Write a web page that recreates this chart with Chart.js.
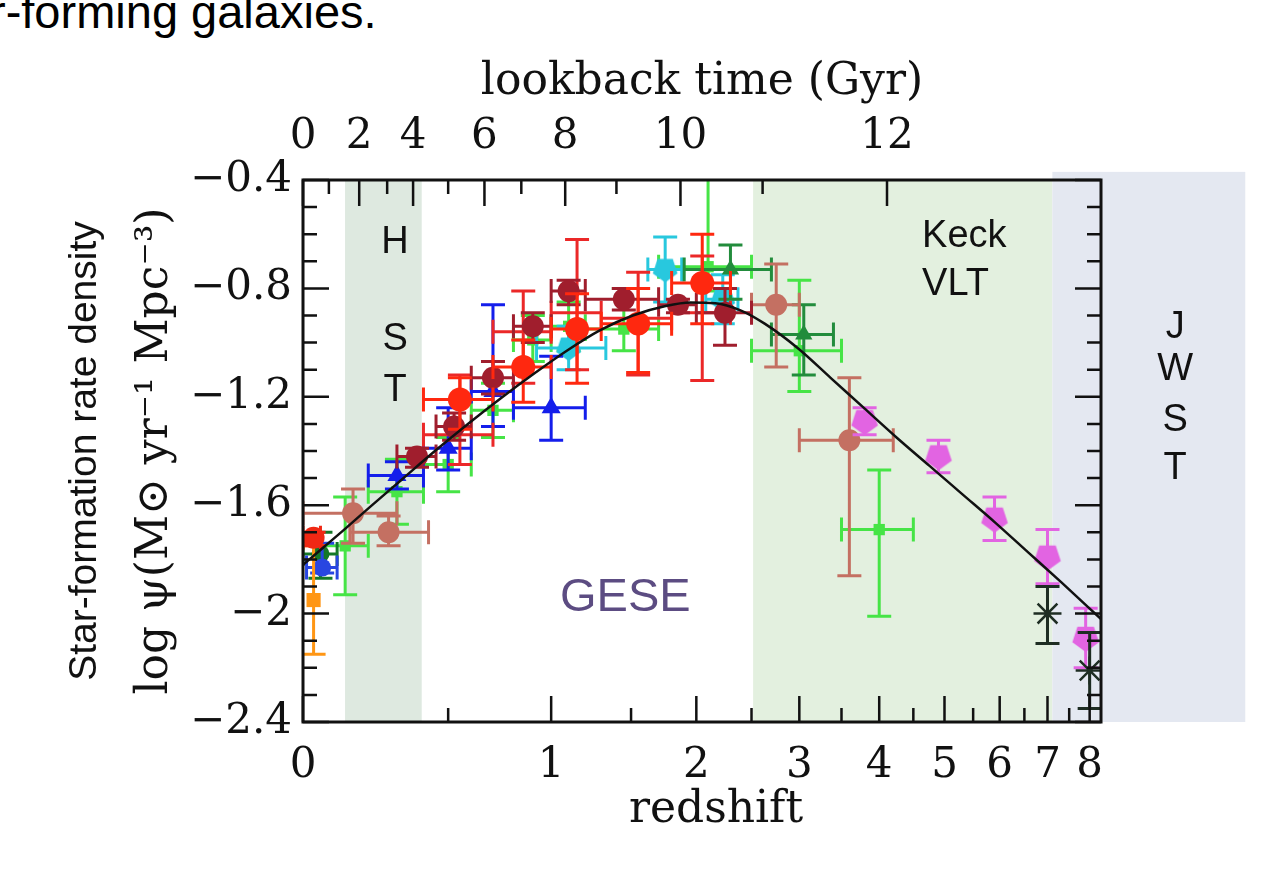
<!DOCTYPE html>
<html>
<head>
<meta charset="utf-8">
<script src="https://cdn.jsdelivr.net/npm/chart.js@4.4.0/dist/chart.umd.min.js"></script>
<style>
  html, body { margin: 0; padding: 0; background: #fff; }
  #wrap { position: relative; width: 1285px; height: 890px; overflow: hidden; }
  #caption {
    position: absolute; left: -10px; top: -12px; white-space: nowrap;
    font: 47px/47px "Liberation Sans", Arial, sans-serif; color: #000;
  }
  #sfrd { position: absolute; left: 0; top: 0; }
</style>
</head>
<body>
<div id="wrap">
  <div id="caption">r-forming galaxies.</div>
  <canvas id="sfrd" width="1285" height="890"></canvas>
</div>
<script>
// rows: [z, zLow, zHigh, log psi, err up, err down]
const cucciati = [
  [0.125, 0.05, 0.2, -1.75, 0.18, 0.18],
  [0.3, 0.2, 0.4, -1.55, 0.12, 0.12],
  [0.5, 0.4, 0.6, -1.45, 0.10, 0.10],
  [0.7, 0.6, 0.8, -1.25, 0.10, 0.10],
  [0.9, 0.8, 1.0, -0.99, 0.09, 0.08],
  [1.1, 1.0, 1.2, -0.94, 0.09, 0.09],
  [1.45, 1.2, 1.7, -0.95, 0.15, 0.08],
  [2.1, 1.7, 2.5, -0.72, 0.49, 0.09],
  [3.0, 2.5, 3.5, -1.03, 0.26, 0.15],
  [4.0, 3.5, 4.5, -1.69, 0.22, 0.32]
];
const dahlen = [
  [1.1, 0.92, 1.33, -1.02, 0.08, 0.08],
  [1.75, 1.62, 1.88, -0.73, 0.12, 0.12],
  [2.23, 2.08, 2.37, -0.84, 0.09, 0.09]
];
const reddy = [
  [2.3, 1.9, 2.7, -0.73, 0.09, 0.11],
  [3.05, 2.7, 3.4, -0.97, 0.11, 0.15]
];
const robotham = [[0.05, 0.0, 0.1, -1.78, 0.08, 0.09]];
const wyder = [[0.055, 0.01, 0.1, -1.83, 0.09, 0.02]];
const schiminovich = [
  [0.3, 0.2, 0.4, -1.49, 0.05, 0.05],
  [0.5, 0.4, 0.6, -1.39, 0.15, 0.08],
  [0.7, 0.6, 0.8, -1.18, 0.32, 0.13],
  [1.0, 0.8, 1.2, -1.24, 0.19, 0.12]
];
const takeuchi = [[0.03, null, null, -1.95, 0.20, 0.20]];
const sanders = [[0.03, 0.0, 0.05, -1.72, 0.02, 0.03]];
const rosy = [
  [0.15, 0.0, 0.3, -1.63, 0.09, 0.11],
  [0.27, 0.14, 0.42, -1.70, 0.06, 0.05],
  [2.75, 2.5, 3.0, -0.86, 0.15, 0.23],
  [3.6, 3.0, 4.2, -1.36, 0.23, 0.50]
];
const magnelli11 = [
  [0.55, 0.4, 0.7, -1.34, 0.22, 0.11],
  [0.85, 0.7, 1.0, -0.96, 0.15, 0.19],
  [1.15, 1.0, 1.3, -0.89, 0.27, 0.21],
  [1.55, 1.3, 1.8, -0.91, 0.17, 0.21],
  [2.05, 1.8, 2.3, -0.89, 0.21, 0.25]
];
const gruppioni = [
  [0.375, 0.3, 0.45, -1.42, 0.03, 0.04],
  [0.525, 0.45, 0.6, -1.31, 0.05, 0.05],
  [0.7, 0.6, 0.8, -1.13, 0.06, 0.06],
  [0.9, 0.8, 1.0, -0.94, 0.05, 0.06],
  [1.1, 1.0, 1.2, -0.81, 0.04, 0.05],
  [1.45, 1.2, 1.7, -0.84, 0.04, 0.04],
  [1.85, 1.7, 2.0, -0.86, 0.02, 0.03],
  [2.25, 2.0, 2.5, -0.89, 0.09, 0.12]
];
const magnelli13 = [
  [0.55, 0.4, 0.7, -1.21, 0.08, 0.11],
  [0.85, 0.7, 1.0, -1.09, 0.10, 0.13],
  [1.15, 1.0, 1.3, -0.95, 0.13, 0.20],
  [1.55, 1.3, 1.8, -0.93, 0.13, 0.18],
  [2.05, 1.8, 2.3, -0.78, 0.18, 0.15]
];
const bouwens = [
  [3.8, null, null, -1.29, 0.05, 0.05],
  [4.9, null, null, -1.42, 0.06, 0.06],
  [5.9, null, null, -1.65, 0.08, 0.08],
  [7.0, null, null, -1.79, 0.10, 0.10],
  [7.9, null, null, -2.09, 0.11, 0.11]
];
const schenker = [
  [7.0, null, null, -2.00, 0.10, 0.11],
  [8.0, null, null, -2.21, 0.14, 0.14]
];

// best-fit curve, sampled along log(1+z)
const curveLogOnePlusZ = [0, 0.025, 0.05, 0.08, 0.12, 0.16, 0.2, 0.24, 0.28, 0.32, 0.36, 0.4, 0.44, 0.47,
  0.5, 0.53, 0.56, 0.6, 0.64, 0.68, 0.72, 0.76, 0.8, 0.84, 0.88, 0.92, 0.968];
const curveLogPsi = [-1.82, -1.755, -1.69, -1.61, -1.505, -1.4, -1.3, -1.205, -1.115, -1.03, -0.955, -0.9, -0.865,
  -0.852, -0.855, -0.88, -0.93, -1.02, -1.13, -1.24, -1.35, -1.455, -1.56, -1.665, -1.775, -1.885, -2.02];

// axes
const zMajor = [0, 1, 2, 3, 4, 5, 6, 7, 8];
const zMajorLabels = ['0', '1', '2', '3', '4', '5', '6', '7', '8'];
const zMinor = [0.5, 1.5, 2.5, 3.5, 4.5, 5.5, 6.5, 7.5];
const lookbackGyr = [0, 1, 2, 3, 4, 5, 6, 7, 8, 9, 10, 11, 12];
const lookbackZ = [0, 0.075, 0.17, 0.265, 0.36, 0.5, 0.66, 0.84, 1.08, 1.4, 1.87, 2.61, 4.11];
const yMajor = [-2.4, -2, -1.6, -1.2, -0.8, -0.4];
const yMajorLabels = ['\u22122.4', '\u22122', '\u22121.6', '\u22121.2', '\u22120.8', '\u22120.4'];

// shaded facility ranges in log(1+z)
const hstRange = [0.051, 0.144];
const groundRange = [0.546, 0.909];
const jwstRange = [0.909, 1.143];

const lz = z => Math.log10(1 + z);
const SERIF = '"DejaVu Serif", "Liberation Serif", serif';
const SANS = '"Liberation Sans", Arial, sans-serif';

function pentagon(color, r) {
  const c = document.createElement('canvas');
  c.width = c.height = 2 * r + 2;
  const g = c.getContext('2d');
  g.fillStyle = color;
  g.beginPath();
  for (let k = 0; k < 5; k++) {
    const a = Math.PI / 2 + k * 2 * Math.PI / 5;
    g.lineTo(r + 1 + r * Math.cos(a), r + 1 + r * Math.sin(a));
  }
  g.closePath();
  g.fill();
  return c;
}

const series = [
  { rows: cucciati, color: 'rgb(70,228,70)', style: 'rect', r: 8 },
  { rows: dahlen, color: 'rgb(40,200,222)', style: pentagon('rgb(40,200,222)', 13), r: 12 },
  { rows: reddy, color: 'rgb(34,140,60)', style: 'triangle', r: 10 },
  { rows: robotham, color: 'rgb(20,120,40)', style: 'circle', r: 9 },
  { rows: wyder, color: 'rgb(40,70,225)', style: 'circle', r: 9 },
  { rows: schiminovich, color: 'rgb(20,30,235)', style: 'triangle', r: 11 },
  { rows: takeuchi, color: 'rgb(255,150,20)', style: 'rect', r: 10 },
  { rows: sanders, color: 'rgb(240,40,20)', style: 'circle', r: 11 },
  { rows: rosy, color: 'rgb(196,112,98)', style: 'circle', r: 11 },
  { rows: magnelli11, color: 'rgb(235,40,40)', style: 'circle', r: 0 },
  { rows: gruppioni, color: 'rgb(160,30,45)', style: 'circle', r: 11 },
  { rows: magnelli13, color: 'rgb(255,40,15)', style: 'circle', r: 12 },
  { rows: bouwens, color: 'rgb(226,100,226)', style: pentagon('rgb(226,100,226)', 14), r: 13 },
  { rows: schenker, color: 'rgb(30,45,35)', style: 'star', r: 14 }
];

const datasets = series.map((s, i) => ({
  type: 'scatter',
  data: s.rows.map(r => ({ x: lz(r[0]), y: r[3] })),
  rows: s.rows,
  barColor: s.color,
  pointStyle: s.style,
  pointRadius: s.r,
  backgroundColor: s.color,
  borderColor: s.color,
  borderWidth: s.style === 'star' ? 2.5 : 0,
  order: series.length - i + 1
}));
datasets.push({
  type: 'line',
  data: curveLogOnePlusZ.map((x, i) => ({ x: x, y: curveLogPsi[i] })),
  borderColor: '#111',
  borderWidth: 2.5,
  pointRadius: 0,
  cubicInterpolationMode: 'monotone',
  order: 0
});

// shaded bands behind everything
const bands = {
  id: 'bands',
  beforeDraw(chart) {
    const { ctx, chartArea: a, scales: { x, y } } = chart;
    ctx.save();
    const fillBand = (range, top, color) => {
      const x0 = x.getPixelForValue(range[0]), x1 = x.getPixelForValue(range[1]);
      ctx.fillStyle = color;
      ctx.fillRect(x0, top, x1 - x0, a.bottom - top);
    };
    fillBand(hstRange, a.top, 'rgb(222,233,224)');
    fillBand(groundRange, a.top, 'rgb(227,240,223)');
    fillBand(jwstRange, y.getPixelForValue(-0.37), 'rgb(228,232,241)');
    ctx.restore();
  }
};

// error bars, drawn just before each dataset's markers
const errorBars = {
  id: 'errorBars',
  beforeDatasetDraw(chart, args) {
    const ds = chart.data.datasets[args.index];
    if (!ds.rows) return;
    const { ctx, chartArea: a, scales: { x, y } } = chart;
    const cap = 12;
    ctx.save();
    ctx.beginPath();
    ctx.rect(a.left, a.top, a.right - a.left, a.bottom - a.top);
    ctx.clip();
    ctx.strokeStyle = ds.barColor;
    ctx.lineWidth = 3;
    ctx.beginPath();
    ds.rows.forEach(r => {
      const px = x.getPixelForValue(lz(r[0]));
      const py = y.getPixelForValue(r[3]);
      const yt = y.getPixelForValue(r[3] + r[4]);
      const yb = y.getPixelForValue(r[3] - r[5]);
      ctx.moveTo(px, yt); ctx.lineTo(px, yb);
      ctx.moveTo(px - cap, yt); ctx.lineTo(px + cap, yt);
      ctx.moveTo(px - cap, yb); ctx.lineTo(px + cap, yb);
      if (r[1] !== null) {
        const xl = x.getPixelForValue(lz(r[1]));
        const xr = x.getPixelForValue(lz(r[2]));
        ctx.moveTo(xl, py); ctx.lineTo(xr, py);
        ctx.moveTo(xl, py - cap); ctx.lineTo(xl, py + cap);
        ctx.moveTo(xr, py - cap); ctx.lineTo(xr, py + cap);
      }
    });
    ctx.stroke();
    ctx.restore();
  }
};

// box frame with inward ticks on all four sides
const frame = {
  id: 'frame',
  afterDatasetsDraw(chart) {
    const { ctx, chartArea: a, scales: { x, y } } = chart;
    const long = 26, short = 14;
    ctx.save();
    ctx.strokeStyle = '#111';
    ctx.lineWidth = 2.5;
    ctx.beginPath();
    zMajor.forEach(z => { const p = x.getPixelForValue(lz(z)); ctx.moveTo(p, a.bottom); ctx.lineTo(p, a.bottom - long); });
    zMinor.forEach(z => { const p = x.getPixelForValue(lz(z)); ctx.moveTo(p, a.bottom); ctx.lineTo(p, a.bottom - short); });
    lookbackGyr.forEach((t, i) => {
      const p = x.getPixelForValue(lz(lookbackZ[i]));
      ctx.moveTo(p, a.top); ctx.lineTo(p, a.top + (t % 2 === 0 ? long : short));
    });
    for (let k = 0; k <= 20; k++) {
      const v = -2.4 + k * 0.1;
      const p = y.getPixelForValue(v);
      const len = k % 4 === 0 ? long : short;
      ctx.moveTo(a.left, p); ctx.lineTo(a.left + len, p);
      ctx.moveTo(a.right, p); ctx.lineTo(a.right - len, p);
    }
    ctx.stroke();
    ctx.lineWidth = 3;
    ctx.strokeRect(a.left, a.top, a.right - a.left, a.bottom - a.top);
    ctx.restore();
  }
};

// facility and survey labels placed in data units
const labels = {
  id: 'labels',
  afterDraw(chart) {
    const { ctx, scales: { x, y } } = chart;
    ctx.save();
    ctx.textBaseline = 'middle';
    ctx.textAlign = 'center';
    ctx.fillStyle = '#111';
    ctx.font = '38px ' + SANS;
    [['H', -0.632], ['S', -0.99], ['T', -1.175]].forEach(([t, v]) =>
      ctx.fillText(t, x.getPixelForValue(0.1117), y.getPixelForValue(v)));
    [['J', -0.946], ['W', -1.101], ['S', -1.286], ['T', -1.463]].forEach(([t, v]) =>
      ctx.fillText(t, x.getPixelForValue(1.058), y.getPixelForValue(v)));
    ctx.textAlign = 'left';
    ctx.fillText('Keck', x.getPixelForValue(0.751), y.getPixelForValue(-0.61));
    ctx.fillText('VLT', x.getPixelForValue(0.751), y.getPixelForValue(-0.787));
    ctx.textAlign = 'center';
    ctx.fillStyle = 'rgb(92,76,130)';
    ctx.font = '47px ' + SANS;
    ctx.fillText('GESE', x.getPixelForValue(0.391), y.getPixelForValue(-1.942));
    ctx.restore();
  }
};

const tickFont = { family: SERIF, size: 42 };
const titleFont = { family: SERIF, size: 44 };

new Chart(document.getElementById('sfrd'), {
  type: 'scatter',
  data: { datasets: datasets },
  options: {
    responsive: false,
    animation: false,
    events: [],
    layout: { padding: { left: 0, top: 0, right: 184, bottom: 0 } },
    plugins: { legend: { display: false }, tooltip: { enabled: false } },
    scales: {
      x: {
        type: 'linear', position: 'bottom', min: 0, max: 0.968,
        afterBuildTicks: s => { s.ticks = zMajor.map(z => ({ value: lz(z) })); },
        afterFit: s => { s.height = 168; },
        ticks: { autoSkip: false, maxRotation: 0, padding: 19, color: '#111', font: tickFont,
          callback: (v, i) => zMajorLabels[i] },
        grid: { display: false, drawTicks: false },
        border: { display: false },
        title: { display: true, text: '  redshift', color: '#111', font: titleFont, padding: { top: 0, bottom: 53 } }
      },
      xTop: {
        type: 'linear', position: 'top', min: 0, max: 0.968,
        afterBuildTicks: s => {
          s.ticks = lookbackGyr.filter(t => t % 2 === 0).map(t => ({ value: lz(lookbackZ[lookbackGyr.indexOf(t)]) }));
        },
        afterFit: s => { s.height = 180; },
        ticks: { autoSkip: false, maxRotation: 0, padding: 18, color: '#111', font: tickFont,
          callback: (v, i) => String(i * 2) },
        grid: { display: false, drawTicks: false },
        border: { display: false },
        title: { display: true, text: 'lookback time (Gyr)', color: '#111', font: titleFont, padding: { top: 56, bottom: 0 } }
      },
      y: {
        type: 'linear', position: 'left', min: -2.4, max: -0.4, weight: 0,
        afterBuildTicks: s => { s.ticks = yMajor.map(v => ({ value: v })); },
        afterFit: s => { s.width = 188; },
        ticks: { autoSkip: false, padding: 11, color: '#111', font: tickFont,
          callback: (v, i) => yMajorLabels[i] },
        grid: { display: false, drawTicks: false },
        border: { display: false },
        title: { display: true, text: 'log \u03C8(M\u2299 yr\u207B\u00B9 Mpc\u207B\u00B3)', color: '#111', font: titleFont,
          padding: { top: 14, bottom: 0 } }
      },
      yOuter: {
        type: 'linear', position: 'left', min: -2.4, max: -0.4, weight: 1,
        afterFit: s => { s.width = 115; },
        ticks: { display: false },
        grid: { display: false, drawTicks: false },
        border: { display: false },
        title: { display: true, text: 'Star-formation rate density', color: '#111',
          font: { family: SANS, size: 39 }, padding: { top: 62, bottom: 0 } }
      }
    }
  },
  plugins: [bands, errorBars, frame, labels]
});
</script>
</body>
</html>
